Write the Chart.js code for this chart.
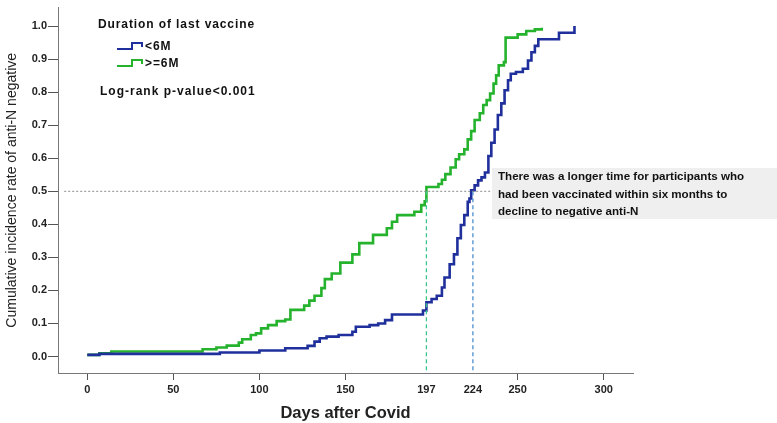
<!DOCTYPE html>
<html>
<head>
<meta charset="utf-8">
<script src="https://cdn.jsdelivr.net/npm/chart.js@4.4.1/dist/chart.umd.min.js"></script>
<style>
  html, body { margin: 0; padding: 0; background: #fff; }
  #wrap { width: 777px; height: 423px; position: relative; }
</style>
</head>
<body>
<div id="wrap"><canvas id="km-chart"></canvas></div>
<script>
// Kaplan-Meier style cumulative incidence
const groupLabels = ["<6M", ">=6M"];

const blueDays  = [0, 7, 77, 100, 115, 128, 132, 135, 139, 146, 154, 156, 164, 169, 173, 177, 195, 197, 200, 203, 206, 207.5, 210.5, 213, 215, 217, 219, 221, 222, 223, 225, 227, 229, 231, 233, 234.7, 236.6, 238.5, 240.5, 242.4, 244.4, 246, 249, 253, 256, 258, 260, 262, 274, 283];
const blueRates = [0.005, 0.008, 0.012, 0.018, 0.025, 0.032, 0.045, 0.055, 0.06, 0.065, 0.075, 0.09, 0.095, 0.1, 0.11, 0.127, 0.139, 0.164, 0.174, 0.184, 0.209, 0.239, 0.279, 0.309, 0.358, 0.398, 0.428, 0.468, 0.478, 0.503, 0.518, 0.533, 0.542, 0.557, 0.607, 0.647, 0.687, 0.731, 0.766, 0.806, 0.836, 0.856, 0.861, 0.871, 0.896, 0.921, 0.94, 0.96, 0.98, 1.0];

const greenDays  = [0, 7, 14, 67, 75, 81, 88, 90, 95, 98, 101, 105, 110, 115, 118, 126, 129, 132, 136, 138, 142, 147, 154, 158, 166, 174, 177, 180, 190, 194, 196, 197, 204, 206, 208, 211, 214, 216, 219, 221, 223, 225, 228, 230, 232, 234, 236, 237.5, 239, 242, 243, 250, 255, 260, 264];
const greenRates = [0.005, 0.01, 0.015, 0.022, 0.027, 0.033, 0.042, 0.052, 0.065, 0.07, 0.085, 0.095, 0.107, 0.112, 0.141, 0.154, 0.169, 0.184, 0.207, 0.234, 0.251, 0.284, 0.309, 0.343, 0.368, 0.388, 0.408, 0.428, 0.438, 0.458, 0.47, 0.513, 0.522, 0.535, 0.552, 0.572, 0.597, 0.612, 0.627, 0.657, 0.682, 0.716, 0.736, 0.761, 0.776, 0.796, 0.826, 0.851, 0.881, 0.891, 0.965, 0.975, 0.985, 0.99, 0.995];

// medians (days at which 50% turned negative)
const medianLevel = 0.5;
const medianDays = [224, 197]; // <6M, >=6M

const xTicks = [0, 50, 100, 150, 197, 224, 250, 300];
const yTicks = [0, 0.1, 0.2, 0.3, 0.4, 0.5, 0.6, 0.7, 0.8, 0.9, 1.0];

const xMin = -17, xMax = 317;
const yMin = -0.05, yMax = 1.056;
const refLineEnd = 235; // horizontal guide stops at the note box

const noteLines = [
  "There was a longer time for participants who",
  "had been vaccinated within six months to",
  "decline to negative anti-N"
];

const BLUE = "#1f2f9c";
const GREEN = "#25b22d";
const FONT = "'Liberation Sans', Arial, sans-serif";

const toPoints = (xs, ys) => xs.map((x, i) => ({ x: x, y: ys[i] }));

// legend, p-value and the grey note box
const extrasPlugin = {
  id: "extras",
  afterDatasetsDraw(chart) {
    const ctx = chart.ctx;
    ctx.save();
    ctx.fillStyle = "#111";
    ctx.textBaseline = "middle";
    ctx.textAlign = "left";
    ctx.font = "bold 12px " + FONT;
    ctx.letterSpacing = "0.9px";
    ctx.fillText("Duration of last vaccine", 98, 25);

    const drawIcon = (y, color) => {
      ctx.strokeStyle = color;
      ctx.lineWidth = 2;
      ctx.beginPath();
      ctx.moveTo(117, y + 3);
      ctx.lineTo(132, y + 3);
      ctx.lineTo(132, y - 3);
      ctx.lineTo(142, y - 3);
      ctx.lineTo(142, y + 1);
      ctx.stroke();
    };
    drawIcon(46, BLUE);
    drawIcon(63, GREEN);
    ctx.fillText(groupLabels[0], 145, 47);
    ctx.fillText(groupLabels[1], 145, 64);
    ctx.letterSpacing = "1px";
    ctx.fillText("Log-rank p-value<0.001", 100, 92);

    // note box
    ctx.fillStyle = "#efefef";
    ctx.fillRect(492, 168, 285, 51);
    ctx.fillStyle = "#111";
    ctx.letterSpacing = "0px";
    ctx.font = "bold 11.6px " + FONT;
    noteLines.forEach((t, i) => ctx.fillText(t, 498, 177 + i * 17.5));
    ctx.restore();
  }
};

const ctxt = document.getElementById("km-chart").getContext("2d");

const myChart = new Chart(ctxt, {
  type: "scatter",
  data: {
    datasets: [
      {
        label: "guide",
        data: [{ x: -13.4, y: medianLevel }, { x: refLineEnd, y: medianLevel }],
        showLine: true, borderColor: "#8a8a8a", borderWidth: 1, borderDash: [2, 2],
        pointRadius: 0
      },
      {
        label: "median >=6M",
        data: [{ x: medianDays[1], y: medianLevel }, { x: medianDays[1], y: yMin }],
        showLine: true, borderColor: "#3cc58a", borderWidth: 1.3, borderDash: [4, 3],
        pointRadius: 0
      },
      {
        label: "median <6M",
        data: [{ x: medianDays[0], y: medianLevel }, { x: medianDays[0], y: yMin }],
        showLine: true, borderColor: "#4a8fd0", borderWidth: 1.3, borderDash: [4, 3],
        pointRadius: 0
      },
      {
        label: groupLabels[0],
        data: toPoints(blueDays, blueRates),
        showLine: true, stepped: "before",
        borderColor: BLUE, borderWidth: 2.6, pointRadius: 0
      },
      {
        label: groupLabels[1],
        data: toPoints(greenDays, greenRates),
        showLine: true, stepped: "before",
        borderColor: GREEN, borderWidth: 2.6, pointRadius: 0
      }
    ]
  },
  options: {
    responsive: true,
    maintainAspectRatio: false,
    animation: false,
    layout: { padding: { top: 3, right: 144, left: 0, bottom: 0 } },
    plugins: {
      legend: { display: false },
      tooltip: { enabled: false }
    },
    scales: {
      x: {
        type: "linear",
        min: xMin,
        max: xMax,
        afterBuildTicks: (scale) => { scale.ticks = xTicks.map(v => ({ value: v })); },
        afterFit: (scale) => { scale.height = 50; },
        grid: {
          drawOnChartArea: false,
          tickLength: 7,
          color: (c) => (c.tick && (c.tick.value === 197 || c.tick.value === 224)) ? "rgba(0,0,0,0)" : "#555"
        },
        border: { color: "#777", width: 1 },
        ticks: {
          padding: 3,
          color: "#222",
          font: { family: FONT, size: 11, weight: "bold" },
          maxRotation: 0,
          autoSkip: false
        },
        title: {
          display: true,
          text: "Days after Covid",
          color: "#222",
          font: { family: FONT, size: 16.5, weight: "bold" },
          padding: { top: 0, bottom: 0 }
        }
      },
      y: {
        min: yMin,
        max: yMax,
        afterBuildTicks: (scale) => { scale.ticks = yTicks.map(v => ({ value: v })); },
        afterFit: (scale) => { scale.width = 58; },
        grid: { drawOnChartArea: false, tickLength: 10, color: "#555" },
        border: { color: "#777", width: 1 },
        ticks: {
          padding: 1,
          color: "#222",
          font: { family: FONT, size: 11, weight: "bold" },
          callback: (v) => v.toFixed(1)
        },
        title: {
          display: true,
          text: "Cumulative incidence rate of anti-N negative",
          color: "#222",
          font: { family: FONT, size: 14 },
          padding: { top: 4, bottom: 0 }
        }
      }
    }
  },
  plugins: [extrasPlugin]
});
</script>
</body>
</html>
